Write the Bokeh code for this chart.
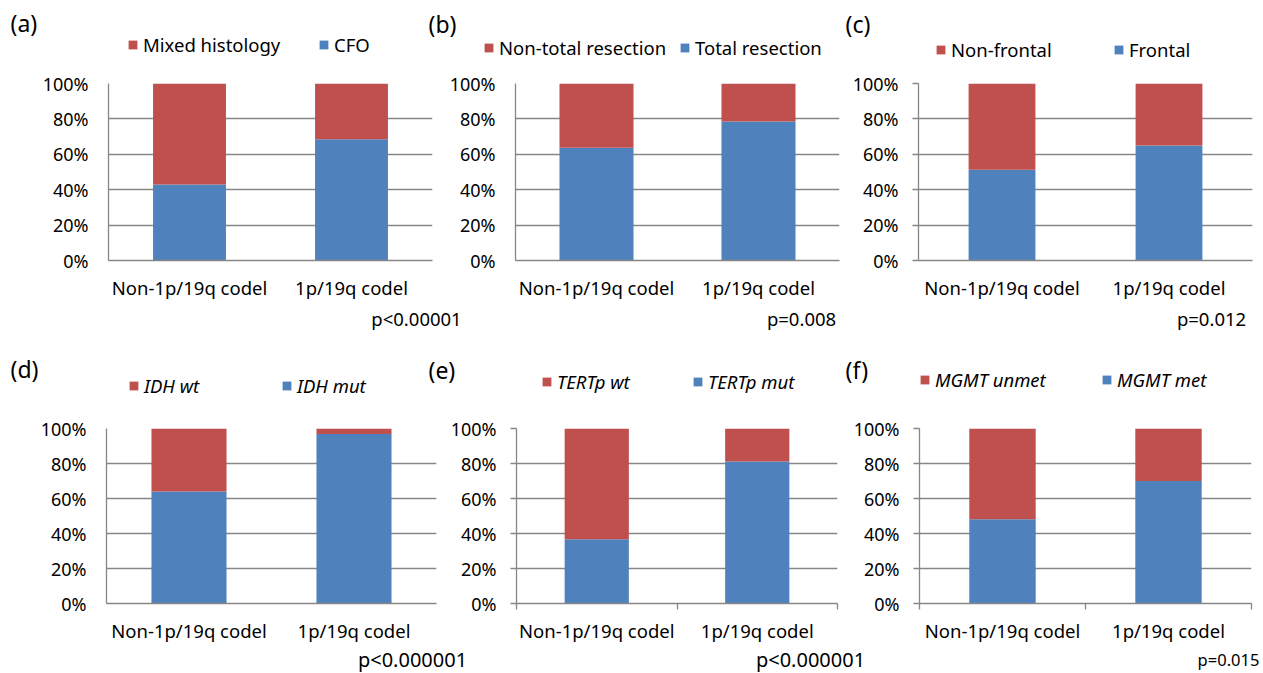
import numpy as np
from bokeh.plotting import figure
from bokeh.models import (Range1d, FixedTicker, NumeralTickFormatter, Legend,
                          LegendItem, Label, ColumnDataSource)
from bokeh.layouts import column, row
from bokeh.core.properties import value
from bokeh.embed import file_html
from bokeh.resources import INLINE

# ---------------- data ----------------
categories = ["Non-1p/19q codel", "1p/19q codel"]
panel_tags = ["(a)", "(b)", "(c)", "(d)", "(e)", "(f)"]
red_names = ["Mixed histology", "Non-total resection", "Non-frontal",
             "IDH wt", "TERTp wt", "MGMT unmet"]
blue_names = ["CFO", "Total resection", "Frontal",
              "IDH mut", "TERTp mut", "MGMT met"]
blue_a = [0.43, 0.685]
red_a = [0.57, 0.315]
blue_b = [0.637, 0.786]
red_b = [0.363, 0.214]
blue_c = [0.513, 0.65]
red_c = [0.487, 0.35]
blue_d = [0.64, 0.969]
red_d = [0.36, 0.031]
blue_e = [0.367, 0.811]
red_e = [0.633, 0.189]
blue_f = [0.482, 0.70]
red_f = [0.518, 0.30]
p_values = ["p<0.00001", "p=0.008", "p=0.012",
            "p<0.000001", "p<0.000001", "p=0.015"]
y_ticks = [0, 0.2, 0.4, 0.6, 0.8, 1.0]

blues = [blue_a, blue_b, blue_c, blue_d, blue_e, blue_f]
reds = [red_a, red_b, red_c, red_d, red_e, red_f]

# ---------------- styles ----------------
BLUE = "#4F81BD"
RED = "#C0504D"
GRID = "#868686"
FONT = "Noto Sans"
PAGE_W = 1263

# chart figures: size, borders, x-range end, bar width, tick styles
styles = [
    dict(w=440, h=242, l=108, r=8, t=23, fh=178, xend=2.0, bw=0.45, yto=0, xto=False),
    dict(w=402, h=242, l=75, r=3, t=23, fh=179, xend=2.0, bw=0.457, yto=0, xto=False),
    dict(w=421, h=242, l=76, r=11, t=20, fh=180, xend=2.0, bw=0.40, yto=6, xto=False),
    dict(w=440, h=245, l=106, r=4, t=19, fh=184, xend=2.0, bw=0.455, yto=0, xto=False),
    dict(w=402, h=245, l=76, r=5, t=24, fh=179, xend=2.0, bw=0.40, yto=6, xto=True),
    dict(w=421, h=245, l=77, r=12, t=28, fh=177, xend=2.0, bw=0.40, yto=6, xto=True),
]

# header strips: tag (left x, centre y from strip top), legend squares (x) and centre y
heads = [
    dict(tag=(10, 22), lr=127, lb=318, lcy=43.5, it=False),
    dict(tag=(428, 23), lr=483, lb=679, lcy=46.5, it=False),
    dict(tag=(845, 23), lr=935, lb=1113, lcy=48.5, it=False),
    dict(tag=(10, 66), lr=128, lb=281, lcy=82.5, it=True),
    dict(tag=(428, 67.5), lr=541, lb=692, lcy=79, it=True),
    dict(tag=(845, 67.5), lr=919, lb=1101, lcy=77, it=True),
]
LEG_H = 26

# p-value placement: centre x, middle y from strip top, font size
pv_pos = [(416, 16, "18.5px"), (801, 16, "18.5px"), (1211, 16, "18.5px"),
          (412, 14, "20px"), (810, 14, "20px"), (1228, 14, "16.5px")]


def make_panel(i):
    st = styles[i]
    xc = [k + 0.5 for k in range(len(categories))]
    src = ColumnDataSource(dict(x=xc, blue=blues[i], red=reds[i]))
    p = figure(width=st["w"], height=st["h"], x_range=Range1d(0, st["xend"]),
               y_range=Range1d(0, 1), output_backend="svg", toolbar_location=None,
               min_border_left=st["l"], min_border_right=st["r"],
               min_border_top=st["t"], min_border_bottom=st["h"] - st["t"] - st["fh"])
    p.outline_line_color = None
    p.background_fill_color = "white"
    p.border_fill_color = "white"
    p.vbar_stack(["blue", "red"], x="x", width=st["bw"], source=src,
                 fill_color=[BLUE, RED], line_color=None)

    xa = p.xaxis[0]
    xa.ticker = FixedTicker(ticks=xc, minor_ticks=[0, 1, 2] if st["xto"] else [])
    xa.major_label_overrides = {x: c for x, c in zip(xc, categories)}
    xa.major_tick_out = 0
    xa.major_tick_in = 0
    xa.minor_tick_in = 0
    xa.minor_tick_out = 6
    xa.minor_tick_line_color = GRID if st["xto"] else None
    xa.minor_tick_line_width = 1.3
    xa.axis_line_color = GRID
    xa.axis_line_width = 1.3
    xa.major_label_standoff = 14 - (6 if st["xto"] else 0)
    xa.major_label_text_font = FONT
    xa.major_label_text_font_size = "18.5px"
    xa.major_label_text_color = "black"

    ya = p.yaxis[0]
    ya.ticker = FixedTicker(ticks=y_ticks, minor_ticks=[])
    ya.formatter = NumeralTickFormatter(format="0%")
    ya.major_tick_in = 0
    ya.major_tick_out = st["yto"]
    ya.major_tick_line_color = GRID
    ya.major_tick_line_width = 1.3
    ya.minor_tick_line_color = None
    ya.axis_line_color = GRID
    ya.axis_line_width = 1.3
    ya.major_label_standoff = 20 - st["yto"]
    ya.major_label_text_font = FONT
    ya.major_label_text_font_size = "18px"
    ya.major_label_text_color = "black"

    p.xgrid.visible = False
    p.ygrid.ticker = FixedTicker(ticks=y_ticks, minor_ticks=[])
    p.ygrid.grid_line_color = GRID
    p.ygrid.grid_line_width = 1.3
    return p


def make_strip(h, tag_idx, pv_idx):
    s = figure(width=PAGE_W, height=h, x_range=Range1d(0, PAGE_W), y_range=Range1d(0, h),
               output_backend="svg", toolbar_location=None, min_border=0,
               x_axis_type=None, y_axis_type=None)
    s.outline_line_color = None
    s.xgrid.visible = False
    s.ygrid.visible = False
    s.background_fill_color = "white"
    s.border_fill_color = "white"
    for i in pv_idx:
        x, y, fs = pv_pos[i]
        s.add_layout(Label(x=x, y=h - y, text=p_values[i], text_font=FONT,
                           text_font_size=fs, text_align="center",
                           text_baseline="middle", text_color="black"))
    # swatch-only renderers (NaN data: nothing drawn in the strip itself)
    swatch_src = ColumnDataSource(dict(x=np.array([np.nan]), top=np.array([np.nan])))
    for i in tag_idx:
        hd = heads[i]
        tx, ty = hd["tag"]
        s.add_layout(Label(x=tx, y=h - ty, text=panel_tags[i], text_font=FONT,
                           text_font_size="23px", text_baseline="middle",
                           text_align="left", text_color="black"))
        r_red = s.vbar(x="x", top="top", width=1, source=swatch_src,
                       fill_color=RED, line_color=None)
        r_blue = s.vbar(x="x", top="top", width=1, source=swatch_src,
                        fill_color=BLUE, line_color=None)
        for r, name, lx in [(r_red, red_names[i], hd["lr"]), (r_blue, blue_names[i], hd["lb"])]:
            leg = Legend(items=[LegendItem(label=value(name), renderers=[r])],
                         location=(lx, h - (hd["lcy"] + LEG_H / 2)),
                         orientation="horizontal", glyph_width=11, glyph_height=11,
                         label_standoff=5, padding=0, margin=0, spacing=0,
                         border_line_color=None, background_fill_alpha=0,
                         label_text_font=FONT, label_text_font_size="18.5px",
                         label_text_font_style="italic" if hd["it"] else "normal",
                         label_text_color="black")
            s.add_layout(leg)
    return s


panels = [make_panel(i) for i in range(6)]
head1 = make_strip(60, [0, 1, 2], [])
mid = make_strip(98, [3, 4, 5], [0, 1, 2])
foot = make_strip(28, [], [3, 4, 5])

layout = column(head1,
                row(panels[0], panels[1], panels[2], spacing=0),
                mid,
                row(panels[3], panels[4], panels[5], spacing=0),
                foot, spacing=0)

open("out.html", "w").write(file_html(layout, INLINE))
